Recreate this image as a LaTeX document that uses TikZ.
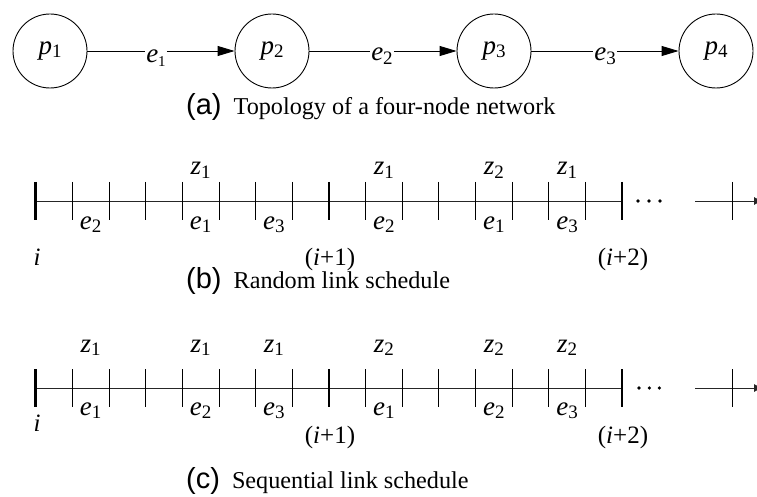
\documentclass[tikz,border=0pt]{standalone}
\usepackage{fontspec}
\setmainfont{Liberation Serif}
\newfontfamily\capsans{Liberation Sans}
\usetikzlibrary{arrows.meta}
\newcommand\sym[3][19]{{\fontsize{27}{27}\selectfont\itshape #2}{\fontsize{#1}{#1}\selectfont\raisebox{-3.5pt}{#3}}}
\newcommand\ilab[1]{{\fontsize{25}{25}\selectfont #1}}
\newcommand\capt[2]{{\capsans\fontsize{29}{29}\selectfont (#1)}\hspace{12pt}{\fontsize{24.2}{24.2}\selectfont #2}}
\begin{document}
\begin{tikzpicture}[x=1pt,y=-1pt,
  pnode/.style={circle,draw,line width=0.9pt,minimum size=74pt,inner sep=0pt},
  elbl/.style={inner xsep=1pt,inner ysep=0pt,anchor=base},
  link/.style={line width=0.9pt},
  arrowlink/.style={line width=0.9pt,-{Triangle[length=17pt,width=10pt]}},
  axis/.style={line width=0.9pt,black!85},
  thintick/.style={line width=0.9pt},
  thicktick/.style={line width=2.6pt},
  lbl/.style={inner sep=0pt,anchor=base},
  captionnode/.style={inner sep=0pt,anchor=base west}]
\useasboundingbox (0,0) rectangle (757,497);

% (a) topology
\node[pnode] (p1) at (50,51) {\sym{p}{1}};
\node[pnode] (p2) at (272,51) {\sym{p}{2}};
\node[pnode] (p3) at (494,51) {\sym{p}{3}};
\node[pnode] (p4) at (716,51) {\sym{p}{4}};
\node[elbl] (l1) at (156,63) {\sym[15]{e}{1}};
\node[elbl] (l2) at (382,61) {\sym{e}{2}};
\node[elbl] (l3) at (605,61) {\sym{e}{3}};
\draw[link] (p1.east) -- (p1.east -| l1.west);
\draw[arrowlink] (p1.east -| l1.east) -- (p2.west);
\draw[link] (p2.east) -- (p2.east -| l2.west);
\draw[arrowlink] (p2.east -| l2.east) -- (p3.west);
\draw[link] (p3.east) -- (p3.east -| l3.west);
\draw[arrowlink] (p3.east -| l3.east) -- (p4.west);
\node[captionnode] (capa) at (186,115) {\capt{a}{Topology of a four-node network}};

% (b) random schedule
\def\Y{201}
\draw[axis] (35.7,\Y) -- (622.1,\Y);
\foreach \k in {1,...,7,9,10,11,12,13,14,15}{
  \draw[thintick] ({35.7+36.65*\k},{\Y-19}) -- ({35.7+36.65*\k},{\Y+19});}
\foreach \k in {0,8,16}{
  \draw[thicktick] ({35.7+36.65*\k},{\Y-19}) -- ({35.7+36.65*\k},{\Y+19});}
\foreach \x in {638,649,660}{\fill (\x,\Y) circle (1.8);}
\draw[axis,-{Latex[length=9pt,width=8pt]}] (695,\Y) -- (763,\Y);
\draw[thintick] (732,{\Y-19}) -- (732,{\Y+19});
\foreach \k/\e in {1/2,4/1,6/3,9/2,12/1,14/3}{
  \node[lbl] (be\k) at ({54+36.65*\k},229) {\sym{e}{\e}};
}
\foreach \k/\z in {4/1,9/1,12/2,14/1}{
  \node[lbl] (bz\k) at ({54+36.65*\k},175) {\sym{z}{\z}};
}
\node[lbl] (bi0) at (37,265) {\ilab{\textit{i}}};
\node[lbl] (bi1) at (330,265) {\ilab{(\textit{i}+1)}};
\node[lbl] (bi2) at (623,265) {\ilab{(\textit{i}+2)}};
\node[captionnode] (capb) at (186,288) {\capt{b}{Random link schedule}};

% (c) sequential schedule
\def\Y{388}
\draw[axis] (35.7,\Y) -- (622.1,\Y);
\foreach \k in {1,...,7,9,10,11,12,13,14,15}{
  \draw[thintick] ({35.7+36.65*\k},{\Y-19}) -- ({35.7+36.65*\k},{\Y+19});}
\foreach \k in {0,8,16}{
  \draw[thicktick] ({35.7+36.65*\k},{\Y-19}) -- ({35.7+36.65*\k},{\Y+19});}
\foreach \x in {639,649.3,659.3}{\fill (\x,\Y) circle (1.8);}
\draw[axis,-{Latex[length=9pt,width=8pt]}] (695,\Y) -- (763,\Y);
\draw[thintick] (732,{\Y-19}) -- (732,{\Y+19});
\foreach \k/\e in {1/1,4/2,6/3,9/1,12/2,14/3}{
  \node[lbl] (ce\k) at ({54+36.65*\k},415) {\sym{e}{\e}};
}
\foreach \k/\z in {1/1,4/1,6/1,9/2,12/2,14/2}{
  \node[lbl] (cz\k) at ({54+36.65*\k},352) {\sym{z}{\z}};
}
\node[lbl] (ci0) at (37,431) {\ilab{\textit{i}}};
\node[lbl] (ci1) at (330,443) {\ilab{(\textit{i}+1)}};
\node[lbl] (ci2) at (623,443) {\ilab{(\textit{i}+2)}};
\node[captionnode] (capc) at (186,488) {\capt{c}{Sequential link schedule}};
\end{tikzpicture}
\end{document}
